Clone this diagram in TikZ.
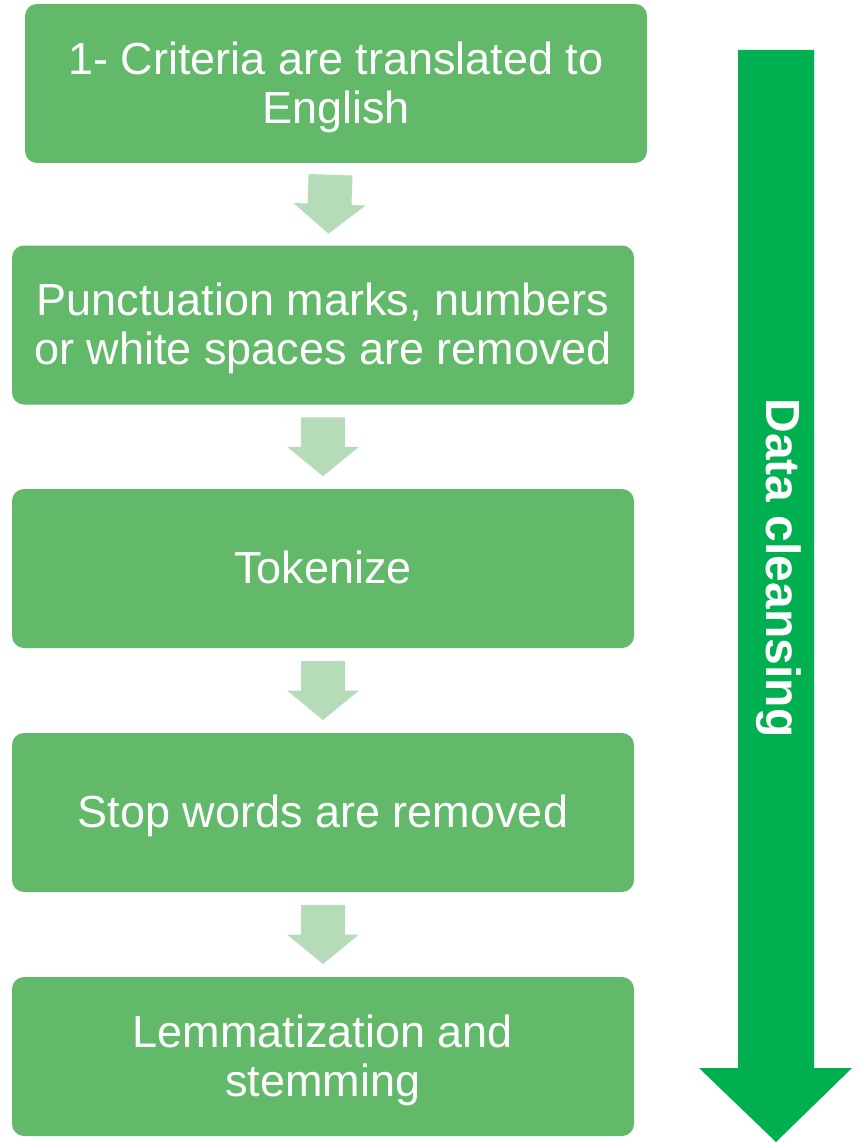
\documentclass[tikz,border=0pt]{standalone}
\usepackage{fontspec}
\setmainfont{Liberation Sans}
\usetikzlibrary{calc}
\definecolor{boxgreen}{HTML}{63B96A}
\definecolor{arrgreen}{HTML}{B6DBB8}
\definecolor{biggreen}{HTML}{00B050}
\newcommand\boxtxt[1]{\raisebox{0pt}[\dimexpr\height+11pt\relax][\depth]{\begin{tabular}{@{}c@{}}#1\end{tabular}}}
\begin{document}
\begin{tikzpicture}[x=1pt,y=-1pt,
  stepbox/.style={fill=boxgreen, draw=none, rounded corners=12pt, minimum height=159pt,
    minimum width=622pt, text=white, font=\fontsize{45}{49}\selectfont, inner sep=0pt},
  downarr/.pic={\fill[arrgreen] (-22,-29.5) -- (22,-29.5) -- (22,0) -- (36,0) -- (0,29.5) -- (-36,0) -- (-22,0) -- cycle;}]
\useasboundingbox (0,0) rectangle (861,1142);
\node[stepbox] (b1) at (336,83.5) {\boxtxt{1- Criteria are translated to\\English}};
\node[stepbox] (b2) at (323,325) {\boxtxt{Punctuation marks, numbers\\or white spaces are removed}};
\node[stepbox] (b3) at (323,568.5) {\boxtxt{Tokenize}};
\node[stepbox] (b4) at (323,812.5) {\boxtxt{Stop words are removed}};
\node[stepbox] (b5) at (323,1056.5) {\boxtxt{Lemmatization and\\stemming}};
\coordinate (a1) at ($(b1.south)!0.5!(b2.north)$);
\path (a1) pic[rotate=-2] {downarr};
\foreach \u/\v in {b2/b3,b3/b4,b4/b5}{
  \path ($(\u.south)!0.5!(\v.north)$) pic {downarr};
}
\fill[biggreen] (738,50) -- (814,50) -- (814,1068) -- (852,1068) -- (776,1142) -- (699,1068) -- (738,1068) -- cycle;
\node[rotate=-90, text=white, font=\fontsize{48}{50}\selectfont\bfseries] (dc) at (779,568) {Data cleansing};
\end{tikzpicture}
\end{document}
